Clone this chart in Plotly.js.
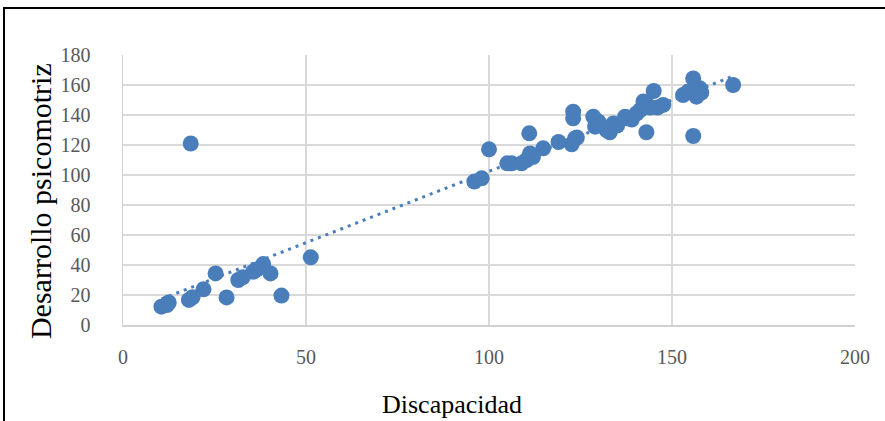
<!DOCTYPE html>
<html>
<head>
<meta charset="utf-8">
<script src="https://cdn.plot.ly/plotly-3.0.1.min.js"></script>
<style>
html,body{margin:0;padding:0;background:#fff;overflow:hidden;}
#wrap{position:relative;width:885px;height:421px;}
#chart{position:absolute;left:0;top:0;width:885px;height:421px;}
#frame{position:absolute;left:3px;top:7px;width:1000px;height:600px;border:2px solid #000;box-sizing:border-box;pointer-events:none;}
</style>
</head>
<body>
<div id="wrap"><div id="chart"></div><div id="frame"></div></div>
<script>
// Discapacidad (x) values
const discapacidad = [10.5, 12, 12.5, 18, 19, 22, 25.3, 28.3, 31.5, 32.7, 35.6, 36.5, 38.3, 40.3, 43.3, 51.3, 18.5,
  96, 98, 100, 105, 106.2, 108.9, 110.3, 111.2, 111, 112, 114.8, 119, 122.6, 123.5, 123, 123, 124,
  128.5, 129.9, 129, 132.1, 133, 134, 135, 137.2, 137.6, 139, 140.3, 141.3, 142.2, 143, 143, 144, 145, 146, 147.6,
  153, 154.4, 155.8, 155.8, 155.8, 156.7, 157.6, 158, 166.7];
// Desarrollo psicomotriz (y) values
const desarrollo = [12.2, 13.3, 15, 16.7, 18.5, 23.8, 34.4, 18.4, 30, 31.8, 35.5, 37, 40.6, 34.4, 19.6, 45.1, 121,
  95.6, 97.8, 117.1, 107.8, 107.8, 107.8, 110, 114.4, 127.8, 112, 117.8, 122, 120.5, 124.4, 142.2, 137.8, 125,
  138.9, 135.5, 132.2, 130, 128.5, 134.4, 133, 138.9, 137.8, 137, 141, 143.3, 149, 147.8, 128.5, 145, 156, 145, 146.7,
  153.3, 155.6, 164.4, 156.7, 126, 152.2, 157.8, 155, 160];
const xTicks = [0, 50, 100, 150, 200];
const yTicks = [0, 20, 40, 60, 80, 100, 120, 140, 160, 180];
const xTitle = 'Discapacidad';
const yTitle = 'Desarrollo psicomotriz';

// Linear trendline (least squares) from the data
const n = discapacidad.length;
const mx = discapacidad.reduce((a,b)=>a+b,0)/n;
const my = desarrollo.reduce((a,b)=>a+b,0)/n;
let sxy=0, sxx=0;
for (let i=0;i<n;i++){ sxy += (discapacidad[i]-mx)*(desarrollo[i]-my); sxx += (discapacidad[i]-mx)**2; }
const slope = sxy/sxx, intercept = my - slope*mx;
const xMin = Math.min(...discapacidad), xMax = Math.max(...discapacidad);
const trendX = [xMin, xMax];
const trendY = trendX.map(v => intercept + slope*v);

const blue = '#4a7ebb';
const serif = 'Liberation Serif, Times New Roman, serif';
const tickFont = {family: serif, size: 20, color: '#595959'};

const traces = [
  {x: trendX, y: trendY, type: 'scatter', mode: 'lines', line: {color: blue, width: 3, dash: '3px,5px'}, hoverinfo: 'skip'},
  {x: discapacidad, y: desarrollo, type: 'scatter', mode: 'markers', marker: {color: blue, size: 16}}
];

const layout = {
  width: 885, height: 421,
  margin: {l: 123, r: 30, t: 55, b: 96},
  paper_bgcolor: '#fff', plot_bgcolor: '#fff',
  showlegend: false,
  xaxis: {
    range: [0, 200], tickvals: xTicks, ticktext: xTicks.map(String),
    showgrid: true, gridcolor: '#d9d9d9', gridwidth: 1.3,
    showline: true, linecolor: '#d0d0d0', linewidth: 1.5,
    zeroline: false, ticks: '', tickfont: tickFont, ticklabelstandoff: 13
  },
  yaxis: {
    range: [0, 180], tickvals: yTicks, ticktext: yTicks.map(String),
    showgrid: true, gridcolor: '#d9d9d9', gridwidth: 1.3,
    showline: true, linecolor: '#d0d0d0', linewidth: 1.5,
    zeroline: false, ticks: '', tickfont: tickFont, ticklabelstandoff: 27
  },
  annotations: [
    {text: xTitle, xref: 'paper', yref: 'paper', x: 0.4495, y: -0.296, xanchor: 'center', yanchor: 'middle',
     showarrow: false, font: {family: serif, size: 26, color: '#000'}},
    {text: yTitle, xref: 'paper', yref: 'paper', x: -0.1134, y: 0.459, xanchor: 'center', yanchor: 'middle',
     textangle: -90, showarrow: false, font: {family: serif, size: 30, color: '#000'}}
  ]
};

Plotly.newPlot('chart', traces, layout, {displayModeBar: false, staticPlot: true});
</script>
</body>
</html>
